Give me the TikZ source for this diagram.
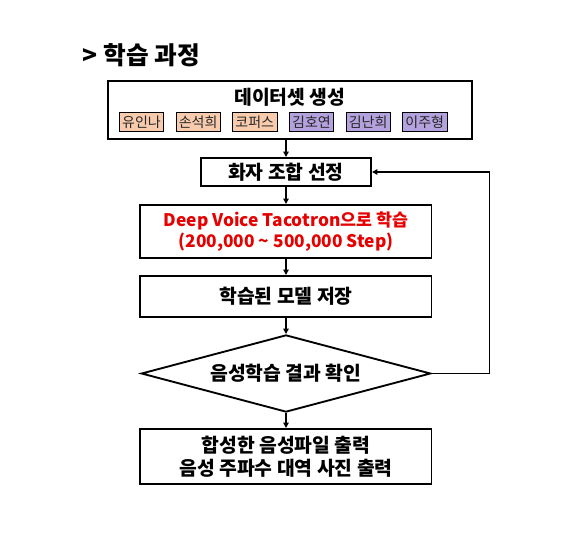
\documentclass[tikz,border=0pt]{standalone}
\usepackage{fontspec}
\setmainfont{Noto Sans CJK KR}
\usetikzlibrary{positioning,shapes.geometric,arrows.meta}
\definecolor{peach}{RGB}{248,203,173}
\definecolor{lilac}{RGB}{180,162,222}
\definecolor{stepred}{RGB}{230,0,0}
\tikzset{
  box/.style={draw, line width=1.4pt, align=center, inner sep=2pt,
    font=\fontsize{14.5}{17.5}\selectfont\bfseries},
  chip/.style={draw, line width=0.6pt, minimum width=33.2pt, minimum height=14.4pt,
    inner sep=0pt, text=black!85, font=\fontsize{10.5}{12}\selectfont},
  link/.style={-{Triangle[length=4pt,width=4pt]}, line width=1.2pt},
}
\begin{document}
\begin{tikzpicture}
    \useasboundingbox (-217.5pt,82.5pt) rectangle (222pt,-327.75pt);
    % Nodes
    \node[box, minimum width=273.1pt, minimum height=43.6pt] (data) at (0,0) {} ; %
    \node[anchor=west, font=\fontsize{18.5}{22}\selectfont\bfseries] (heading) at (-159pt,41.25pt) {> 학습 과정} ; %
    \node[font=\fontsize{14.5}{17.5}\selectfont\bfseries] (datatitle) at ([yshift=-12.75pt]data.north) {데이터셋 생성} ; %
    \foreach \name/\col [count=\i] in {유인나/peach,손석희/peach,코퍼스/peach,김호연/lilac,김난희/lilac,이주형/lilac}
        \node[chip, fill=\col] (chip\i) at ([xshift={-111.4pt+(\i-1)*42.5pt}, yshift=-9pt]data.center) {\name} ; %
    \node[box, minimum width=127.6pt, minimum height=21.1pt, below=12.75pt of data, xshift=-3pt] (choose) {화자 조합 선정} ; %
    \node[box, text=stepred, font=\fontsize{13}{16}\selectfont\bfseries, minimum width=218.35pt, minimum height=39.85pt, below=12.75pt of choose] (train) {Deep Voice Tacotron으로 학습\\(200,000 \textasciitilde{} 500,000 Step)} ; %
    \node[box, minimum width=218.35pt, minimum height=30.85pt, below=12pt of train] (save) {학습된 모델 저장} ; %
    \node[box, diamond, aspect=5, inner sep=1pt, minimum width=217pt, minimum height=57.85pt, below=12pt of save] (check) {음성학습 결과 확인} ; %
    \node[box, minimum width=218.35pt, minimum height=41.35pt, below=11.25pt of check] (output) {합성한 음성파일 출력\\음성 주파수 대역 사진 출력} ; %
    \coordinate[right=43.5pt of check.east] (back) ; %
    % Edges
    \draw[link] (data.south -| choose.north) -- (choose.north) ; %
    \draw[link] (choose) -- (train) ; %
    \draw[link] (train) -- (save) ; %
    \draw[link] (save) -- (check) ; %
    \draw[link] (check) -- (output) ; %
    \draw[link] (check.east) -- (back) |- (choose.east) ; %
\end{tikzpicture}
\end{document}
